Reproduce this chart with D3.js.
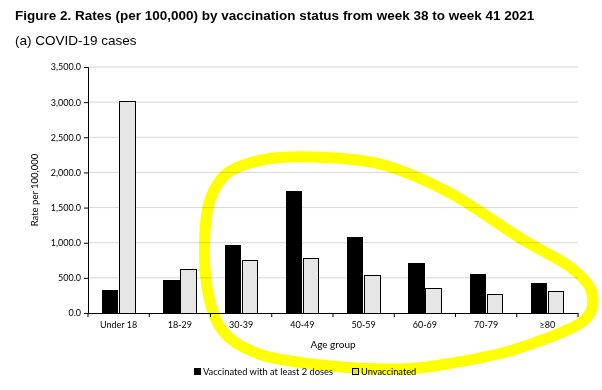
<!DOCTYPE html>
<html>
<head>
<meta charset="utf-8">
<script src="https://cdn.jsdelivr.net/npm/d3@7"></script>
<style>
  body { margin: 0; background: #fff; }
  svg { display: block; }
  .axis text { font-family: Lato, "Open Sans", sans-serif; font-size: 9px; fill: #000; }
</style>
</head>
<body>
<svg id="chart" width="602" height="390"></svg>
<script>
const ageGroups = ['Under 18', '18-29', '30-39', '40-49', '50-59', '60-69', '70-79', '≥80'];
const vaccinated = [320, 465, 960, 1730, 1077, 707, 546, 413];
const unvaccinated = [3010, 615, 754, 778, 532, 351, 270, 304];
const seriesNames = ['Vaccinated with at least 2 doses', 'Unvaccinated'];
const yTicks = [0, 500, 1000, 1500, 2000, 2500, 3000, 3500];

// hand drawn highlight loop (pixels)
const loopPts = [
  [225, 175], [262, 160], [313, 157], [380, 164], [450, 193], [520, 238],
  [570, 267], [592, 293], [582, 322], [513, 350], [447, 364], [400, 369],
  [330, 366], [262, 355], [222, 330], [206, 280], [207, 212]
];

const svg = d3.select('#chart');
const margin = { left: 88, right: 24, top: 67, bottom: 77 };
const width = 602 - margin.left - margin.right;
const height = 390 - margin.top - margin.bottom;

svg.append('text')
  .attr('x', 15).attr('y', 20)
  .style('font-family', '"Liberation Sans", Arial, sans-serif')
  .style('font-weight', 'bold')
  .style('font-size', '13.5px')
  .text('Figure 2. Rates (per 100,000) by vaccination status from week 38 to week 41 2021');

svg.append('text')
  .attr('x', 15).attr('y', 45)
  .style('font-family', '"Liberation Sans", Arial, sans-serif')
  .style('font-size', '13.5px')
  .text('(a) COVID-19 cases');

const g = svg.append('g').attr('transform', `translate(${margin.left},${margin.top})`);

const x = d3.scaleBand().domain(ageGroups).range([0, width]);
const xInner = d3.scaleBand().domain(seriesNames).range([14.5, 47]).paddingInner(0.09);
const y = d3.scaleLinear().domain([0, 3500]).range([height, 0]);

// gridlines
g.append('g')
  .selectAll('line')
  .data(yTicks.slice(1))
  .join('line')
  .attr('x1', 0).attr('x2', width)
  .attr('y1', d => y(d)).attr('y2', d => y(d))
  .attr('stroke', '#d9d9d9').attr('stroke-width', 1);

const rows = ageGroups.map((a, i) => ({ age: a, values: [vaccinated[i], unvaccinated[i]] }));

g.append('g')
  .selectAll('g')
  .data(rows)
  .join('g')
  .attr('transform', d => `translate(${x(d.age)},0)`)
  .selectAll('rect')
  .data(d => d.values.map((v, j) => ({ name: seriesNames[j], v })))
  .join('rect')
  .attr('x', d => xInner(d.name))
  .attr('width', xInner.bandwidth())
  .attr('y', d => y(d.v))
  .attr('height', d => height - y(d.v))
  .attr('fill', d => d.name === seriesNames[0] ? '#000' : '#e6e6e6')
  .attr('stroke', '#000')
  .attr('stroke-width', 1)
  .attr('shape-rendering', 'crispEdges');

// y axis
const yAxis = g.append('g').attr('class', 'axis')
  .call(d3.axisLeft(y).tickValues(yTicks).tickFormat(d3.format(',.1f')).tickSize(4).tickPadding(3));
yAxis.select('.domain').attr('stroke', '#000');

// x axis, ticks on the band edges
const xAxis = g.append('g').attr('class', 'axis').attr('transform', `translate(0,${height})`)
  .call(d3.axisBottom(x).tickSize(0).tickPadding(9));
xAxis.select('.domain').attr('stroke', '#000');
xAxis.append('g')
  .selectAll('line')
  .data(d3.range(ageGroups.length + 1))
  .join('line')
  .attr('x1', i => i * x.step()).attr('x2', i => i * x.step())
  .attr('y1', 0).attr('y2', 4)
  .attr('stroke', '#000');

g.append('text')
  .attr('transform', `translate(-50,${height / 2}) rotate(-90)`)
  .attr('text-anchor', 'middle')
  .style('font-family', 'Lato, "Open Sans", sans-serif')
  .style('font-size', '9.5px')
  .text('Rate per 100,000');

g.append('text')
  .attr('x', width / 2).attr('y', height + 35)
  .attr('text-anchor', 'middle')
  .style('font-family', 'Lato, "Open Sans", sans-serif')
  .style('font-size', '10px')
  .text('Age group');

// legend
const legend = svg.append('g').attr('transform', 'translate(194,375)');
let lx = 0;
seriesNames.forEach((name, j) => {
  legend.append('rect')
    .attr('x', lx + 0.5).attr('y', -6.5)
    .attr('width', 6).attr('height', 6)
    .attr('fill', j === 0 ? '#000' : '#e6e6e6')
    .attr('stroke', '#000');
  const t = legend.append('text')
    .attr('x', lx + 9).attr('y', 0)
    .style('font-family', 'Lato, "Open Sans", sans-serif')
    .style('font-size', '9.3px')
    .text(name);
  lx += 9 + t.node().getComputedTextLength() + 19;
});

// yellow highlighter loop
svg.append('path')
  .datum(loopPts)
  .attr('d', d3.line().curve(d3.curveCardinalClosed.tension(0.1)))
  .attr('fill', 'none')
  .attr('stroke', '#ffff00')
  .attr('stroke-width', 11)
  .style('mix-blend-mode', 'multiply');
</script>
</body>
</html>
